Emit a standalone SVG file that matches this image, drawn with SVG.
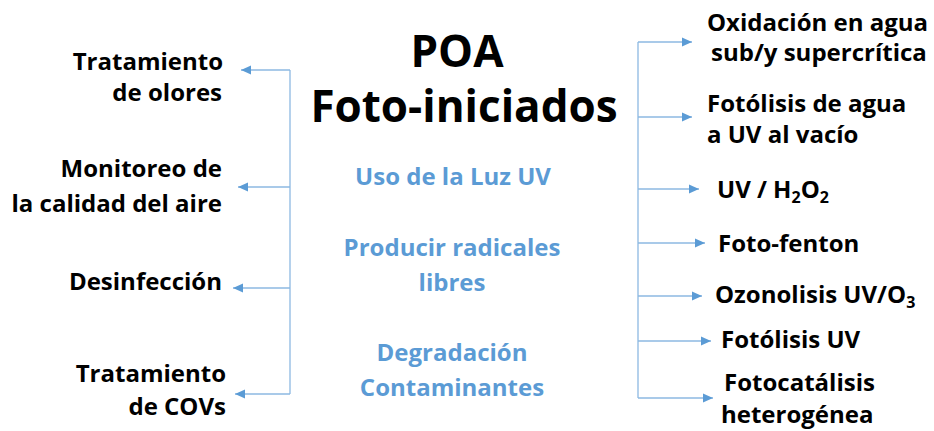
<svg xmlns="http://www.w3.org/2000/svg" width="934" height="431" viewBox="0 0 934 431">
<defs>
<marker id="ah" viewBox="0 0 10 10" refX="10" refY="5" markerWidth="10" markerHeight="10" markerUnits="userSpaceOnUse" orient="auto">
<path d="M0,0.5 L10,5 L0,9.5 Z" fill="#5B9BD5"/>
</marker>
<style>
.lbl{font-family:"Open Sans","Liberation Sans",sans-serif;font-weight:bold;font-size:24px;fill:#000}
.l{text-anchor:end}
.r{text-anchor:start}
.c{font-family:"Open Sans","Liberation Sans",sans-serif;font-weight:bold;font-size:24px;fill:#5B9BD5;text-anchor:middle}
.t{font-family:"Open Sans","Liberation Sans",sans-serif;font-weight:bold;font-size:44px;fill:#000;text-anchor:middle}
.ln{stroke:#8DB8E2;stroke-width:1.3;fill:none}
.ar{stroke:#8DB8E2;stroke-width:1.3;fill:none;marker-end:url(#ah)}
</style>
</defs>
<rect width="934" height="431" fill="#fff"/>
<g id="title">
<text class="t" x="457" y="67">POA</text>
<text class="t" x="464" y="122">Foto-iniciados</text>
</g>
<g id="center">
<text class="c" x="453" y="185">Uso de la Luz UV</text>
<text class="c" x="452" y="256">Producir radicales</text>
<text class="c" x="452" y="291">libres</text>
<text class="c" x="452" y="361">Degradación</text>
<text class="c" x="452" y="396">Contaminantes</text>
</g>
<g id="left-olores"><text class="lbl l" x="223" y="70">Tratamiento</text><text class="lbl l" x="222" y="101">de olores</text></g>
<g id="left-monitoreo"><text class="lbl l" x="222" y="177">Monitoreo de</text><text class="lbl l" x="222" y="212">la calidad del aire</text></g>
<g id="left-desinfeccion"><text class="lbl l" x="222" y="290">Desinfección</text></g>
<g id="left-covs"><text class="lbl l" x="226" y="382">Tratamiento</text><text class="lbl l" x="226" y="415">de COVs</text></g>
<g id="r-oxidacion"><text class="lbl r" x="707" y="31">Oxidación en agua</text><text class="lbl r" x="711" y="61">sub/y supercrítica</text></g>
<g id="r-fotolisis-agua"><text class="lbl r" x="707" y="112">Fotólisis de agua</text><text class="lbl r" x="707" y="143">a UV al vacío</text></g>
<g id="r-h2o2"><text class="lbl r" x="717" y="198">UV / H<tspan font-size="16" dy="5">2</tspan><tspan dy="-5">O</tspan><tspan font-size="16" dy="5">2</tspan></text></g>
<g id="r-fenton"><text class="lbl r" x="718" y="252">Foto-fenton</text></g>
<g id="r-ozono"><text class="lbl r" x="715" y="303">Ozonolisis UV/O<tspan font-size="16" dy="5">3</tspan></text></g>
<g id="r-fotolisis"><text class="lbl r" x="721" y="348">Fotólisis UV</text></g>
<g id="r-fotocat"><text class="lbl r" x="724" y="391">Fotocatálisis</text><text class="lbl r" x="721" y="423">heterogénea</text></g>
<g id="connectors">
<path class="ln" d="M290,70 V394"/>
<path class="ar" d="M290,70 H241"/>
<path class="ar" d="M290,187 H238"/>
<path class="ar" d="M290,288 H233"/>
<path class="ar" d="M290,394 H235"/>
<path class="ln" d="M638,42 V398"/>
<path class="ar" d="M638,42 H692"/>
<path class="ar" d="M638,117 H692"/>
<path class="ar" d="M638,189 H699"/>
<path class="ar" d="M638,243 H705"/>
<path class="ar" d="M638,296 H702"/>
<path class="ar" d="M638,341 H711"/>
<path class="ar" d="M638,398 H713"/>
</g>
</svg>
